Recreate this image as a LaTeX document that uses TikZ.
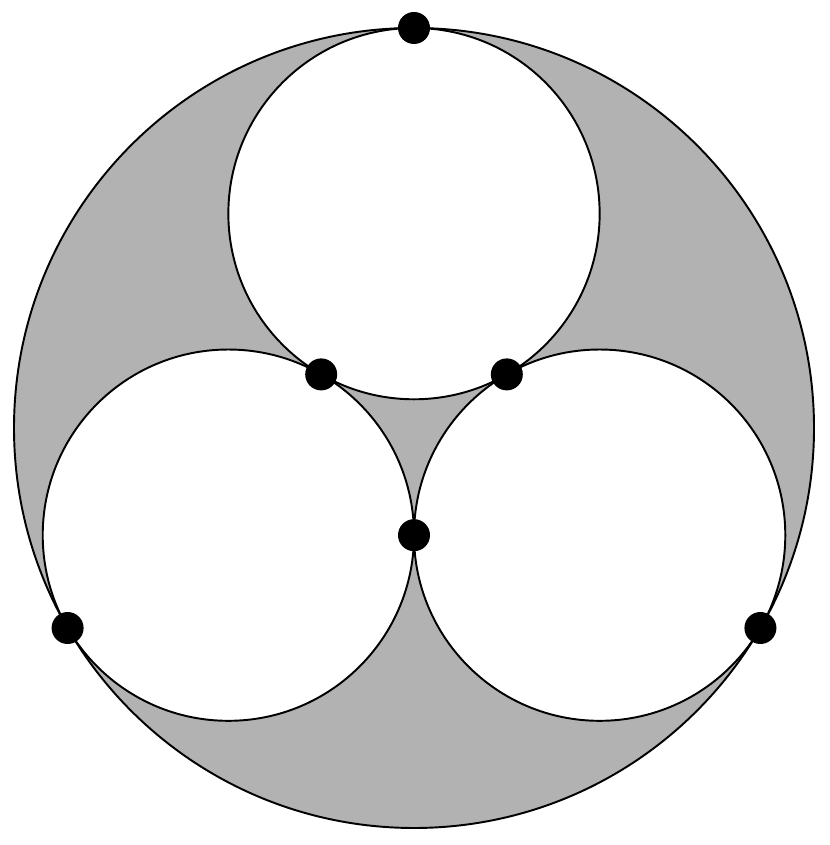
\documentclass[tikz,border=0pt]{standalone}
\usepackage{tikz}
\usetikzlibrary{calc}
\begin{document}
\begin{tikzpicture}[
			     rim/.style={draw=black,line width=1.1pt},
			     dot/.style={circle,fill=black,inner sep=0pt,minimum size=0.64cm}
			     ]
\useasboundingbox (0,0) rectangle (16.58,16.9);
\coordinate (O) at (8.28,8.34);
\filldraw[rim,fill=black!30] (O) circle (8);
\foreach \a/\n in {90/t,210/l,330/r}{%
\coordinate (c-\n) at ($(O)+(\a:4.287)$);
\filldraw[rim,fill=white] (c-\n) circle (3.713);
\node[dot] (b-\n) at ($(O)+(\a:8)$) {};
}
\node[dot] (m-tl) at ($(c-t)!0.5!(c-l)$) {};
\node[dot] (m-tr) at ($(c-t)!0.5!(c-r)$) {};
\node[dot] (m-lr) at ($(c-l)!0.5!(c-r)$) {};
\end{tikzpicture}
\end{document}
